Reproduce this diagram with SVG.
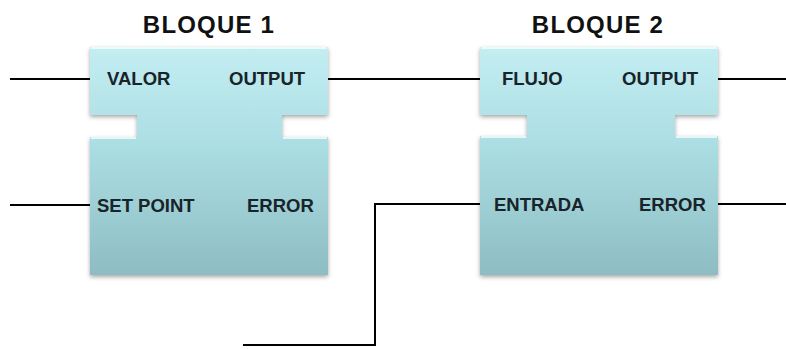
<svg xmlns="http://www.w3.org/2000/svg" width="786" height="349" viewBox="0 0 786 349">
<defs>
<linearGradient id="fill" x1="0" y1="0" x2="0" y2="1">
<stop offset="0" stop-color="#c3eef2"/>
<stop offset="0.45" stop-color="#aadde2"/>
<stop offset="1" stop-color="#8dbdc2"/>
</linearGradient>
<filter id="sh" x="-10%" y="-10%" width="120%" height="130%">
<feDropShadow dx="0" dy="2" stdDeviation="2" flood-color="#000" flood-opacity="0.35"/>
</filter>
</defs>
<style>
.blk{fill:url(#fill);filter:url(#sh)}
.hl{fill:none;stroke:#ffffff;stroke-opacity:0.7;stroke-width:2}
.title{font-family:"Liberation Sans",Arial,sans-serif;font-weight:bold;font-size:24px;letter-spacing:1.2px;fill:#111;text-anchor:middle}
.lbl{font-family:"Liberation Sans",Arial,sans-serif;font-weight:bold;font-size:18.5px;fill:#18232a}
.wire{fill:none;stroke:#000;stroke-width:2}
</style>
<g id="connectors">
<line class="wire" x1="10" y1="79" x2="90" y2="79"/>
<line class="wire" x1="10" y1="205" x2="90" y2="205"/>
<line class="wire" x1="328" y1="79" x2="480" y2="79"/>
<line class="wire" x1="718" y1="79" x2="786" y2="79"/>
<line class="wire" x1="718" y1="204" x2="786" y2="204"/>
<polyline class="wire" points="480,204 375,204 375,345 243,345"/>
</g>
<g id="bloque1">
<path class="blk" d="M90,47 H328 V115 H282 V137 H328 V275 H90 V137 H137 V115 H90 Z"/>
<path class="hl" d="M91,48 H327 M91,138 H136 M283,138 H327"/>
<text class="title" x="209" y="33">BLOQUE 1</text>
<text class="lbl" x="107" y="85">VALOR</text>
<text class="lbl" x="229" y="85">OUTPUT</text>
<text class="lbl" x="97" y="212">SET POINT</text>
<text class="lbl" x="247" y="212">ERROR</text>
</g>
<g id="bloque2">
<path class="blk" d="M480,47 H718 V115 H675 V136 H718 V275 H480 V136 H527 V115 H480 Z"/>
<path class="hl" d="M481,48 H717 M481,137 H526 M676,137 H717"/>
<text class="title" x="598" y="33">BLOQUE 2</text>
<text class="lbl" x="502" y="85">FLUJO</text>
<text class="lbl" x="622" y="85">OUTPUT</text>
<text class="lbl" x="494" y="211">ENTRADA</text>
<text class="lbl" x="639" y="211">ERROR</text>
</g>
</svg>
